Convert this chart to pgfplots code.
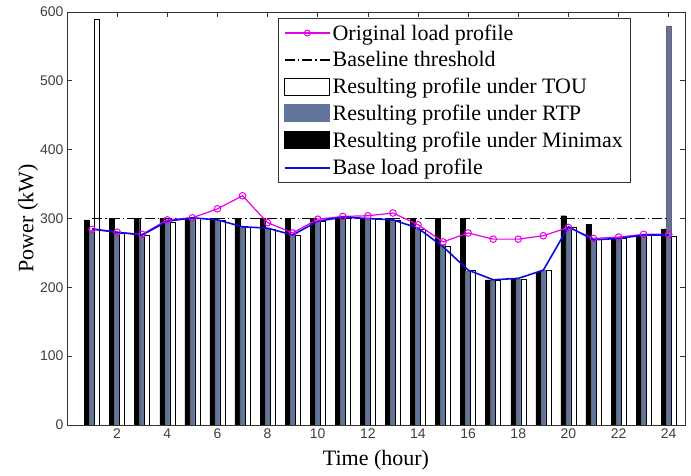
\documentclass[border=0pt]{standalone}
\usepackage{fontspec}
\setmainfont{Liberation Serif}
\newfontfamily\ticksf{Liberation Sans}
\usepackage{pgfplots}
\pgfplotsset{compat=1.18}
\usetikzlibrary{calc}
\definecolor{rtpgray}{RGB}{96,116,156}
\definecolor{magline}{RGB}{230,0,230}
\definecolor{baseblue}{RGB}{10,10,225}
\pgfplotsset{
  lineleg/.style={legend image code/.code={\draw[mark repeat=2,mark phase=2,##1] plot coordinates {(0pt,0pt) (22.5pt,0pt) (45pt,0pt)};}},
  barleg/.style={legend image code/.code={\draw[##1] (0pt,-8pt) rectangle (45pt,9pt);}},
}

\begin{document}
\begin{tikzpicture}
\begin{axis}[name=ax,scale only axis,width=618pt,height=413pt,
  xmin=0,xmax=24.65,ymin=0,ymax=600,
  xtick={2,4,...,24},ytick={0,100,...,600},
  tick align=inside,major tick length=5pt,
  axis line style={line width=0.8pt,draw=black!80},
  tick style={line width=0.7pt,draw=black!80},
  tick label style={font=\ticksf\fontsize{14}{16}\selectfont,text=black!75},
  /pgf/number format/assume math mode=true,
  xlabel={Time (hour)},ylabel={Power (kW)},
  label style={font=\fontsize{22}{26}\selectfont},
  xlabel style={at={(rel axis cs:0.5,0)},anchor=center,yshift=-35pt},
  ylabel style={at={(rel axis cs:0,0.5)},anchor=center,yshift=39pt},
  legend style={at={(rel axis cs:0.913,0.985)},anchor=north east,draw=black!80,line width=0.8pt,fill=white,
    font=\fontsize{22}{24}\selectfont,row sep=6pt,inner xsep=6pt,inner ysep=4pt,
    nodes={inner xsep=2pt}},
  legend cell align=left]
% Minimax
\addplot[ybar,bar width=0.2,bar shift=-0.2,fill=black,draw=black,line width=0.4pt,forget plot] coordinates {
(1,298) (2,300) (3,300) (4,300) (5,300) (6,300) (7,300) (8,300) (9,300) (10,300) (11,300) (12,300)
(13,300) (14,300) (15,300) (16,300) (17,211) (18,212) (19,222) (20,304) (21,291) (22,273) (23,275) (24,285)};
% RTP
\addplot[ybar,bar width=0.2,bar shift=0,fill=rtpgray,draw=black!60,line width=0.3pt,forget plot] coordinates {
(1,283) (2,279) (3,275) (4,295) (5,300) (6,298) (7,288) (8,285) (9,276) (10,296) (11,301) (12,300)
(13,297) (14,285) (15,262) (16,223) (17,210) (18,212) (19,225) (20,288) (21,272) (22,271) (23,275) (24,580)};
% TOU
\addplot[ybar,bar width=0.2,bar shift=0.2,fill=white,draw=black,line width=0.5pt,forget plot] coordinates {
(1,590) (2,279) (3,275) (4,295) (5,300) (6,298) (7,288) (8,285) (9,276) (10,296) (11,301) (12,300)
(13,297) (14,285) (15,260) (16,225) (17,210) (18,212) (19,225) (20,287) (21,270) (22,271) (23,275) (24,274)};
% baseline threshold
\addplot[black,line width=1.3pt,dash pattern=on 10pt off 3pt on 1.5pt off 3pt,forget plot] coordinates {(1,300) (24,300)};
% original load profile
\addplot[magline,line width=1.2pt,mark=o,mark size=3.3pt,mark options={solid,line width=1pt},forget plot] coordinates {
(1,284) (2,280) (3,277) (4,298) (5,301) (6,314) (7,333) (8,294) (9,279) (10,299) (11,303) (12,304)
(13,308) (14,291) (15,266) (16,279) (17,270) (18,270) (19,275) (20,287) (21,271) (22,273) (23,277) (24,277)};
% base load profile
\addplot[baseblue,line width=1.6pt,forget plot] coordinates {
(1,285) (2,280) (3,276) (4,296) (5,301) (6,298) (7,288) (8,286) (9,276) (10,296) (11,302) (12,300)
(13,298) (14,286) (15,259) (16,225) (17,211) (18,213) (19,225) (20,288) (21,269) (22,271) (23,276) (24,276)};
\addlegendimage{lineleg,magline,line width=1.2pt,mark=o,mark size=3pt,mark options={solid,line width=1pt}}
\addlegendimage{lineleg,black,line width=1.3pt,dash pattern=on 10pt off 3pt on 1.5pt off 3pt}
\addlegendimage{barleg,fill=white,draw=black,line width=0.6pt}
\addlegendimage{barleg,fill=rtpgray,draw=rtpgray}
\addlegendimage{barleg,fill=black,draw=black}
\addlegendimage{lineleg,baseblue,line width=1.6pt}
\legend{Original load profile,Baseline threshold,Resulting profile under TOU,Resulting profile under RTP,Resulting profile under Minimax,Base load profile}
\end{axis}
\pgfresetboundingbox
\path[use as bounding box] ($(ax.south west)+(-67pt,-51pt)$) rectangle ($(ax.north east)+(6pt,12pt)$);
\end{tikzpicture}
\end{document}
